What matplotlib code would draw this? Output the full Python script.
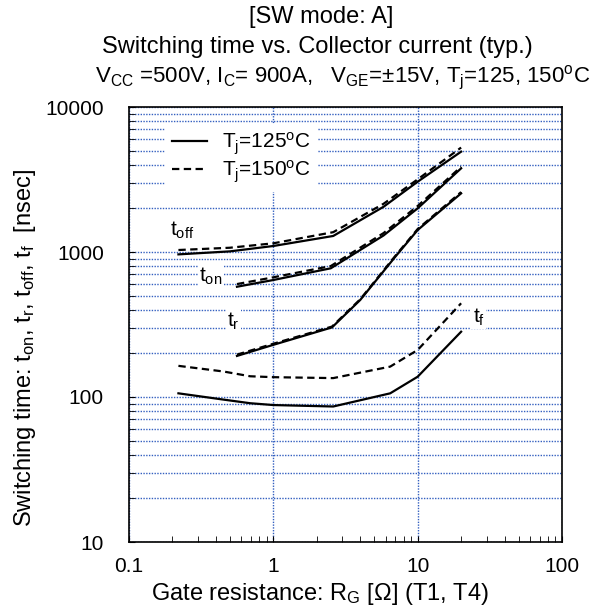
import numpy as np
import matplotlib
matplotlib.use("Agg")
import matplotlib.pyplot as plt

plt.rcParams['font.family'] = ['Liberation Sans', 'DejaVu Sans']
plt.rcParams['mathtext.fontset'] = 'custom'
plt.rcParams['mathtext.rm'] = 'Liberation Sans'
plt.rcParams['mathtext.it'] = 'Liberation Sans:italic'

# gate resistance [ohm] and switching times [nsec]
rg_off = [0.22, 0.5, 1.0, 2.6, 5.8, 10.0, 20.0]
toff_125 = [963, 1010, 1100, 1290, 2050, 3054, 4920]
toff_150 = [1032, 1070, 1148, 1370, 2150, 3170, 5250]

rg_on = [0.56, 1.0, 2.5, 5.8, 10.0, 20.0]
ton_125 = [576, 641, 772, 1300, 2000, 3775]
ton_150 = [601, 669, 800, 1350, 2076, 3873]

rg_r = [0.56, 1.0, 2.55, 4.0, 7.0, 10.0, 20.0]
tr_125 = [192, 229, 302, 467, 928, 1418, 2537]
tr_150 = [196, 233, 306, 472, 940, 1440, 2590]

rg_f = [0.22, 0.45, 0.69, 1.0, 2.6, 6.45, 10.0, 20.0]
tf_125 = [106, 96, 90.6, 88, 86, 106, 138, 282]
tf_150 = [164, 150, 139, 137, 135, 162, 211, 443]

x_ticks = [0.1, 1, 10, 100]
x_ticklabels = ['0.1', '1', '10', '100']
y_ticks = [10, 100, 1000, 10000]
y_ticklabels = ['10', '100', '1000', '10000']

fig = plt.figure(figsize=(5.97, 6.14), dpi=100)
ax = fig.add_axes([129 / 597, 72 / 614, 433 / 597, 435 / 614])
ax.set_xscale('log')
ax.set_yscale('log')
ax.set_xlim(0.1, 100)
ax.set_ylim(10, 10000)

grid_col = '#3460c0'
ax.grid(True, which='major', axis='x', color=grid_col, linestyle=(0, (1.0, 1.0)), linewidth=1.0)
ax.grid(True, which='both', axis='y', color=grid_col, linestyle=(0, (1.0, 1.0)), linewidth=1.0)
ax.set_axisbelow(True)

lw = 1.6
dash = (0, (3.3, 2.0))
ax.plot(rg_off, toff_125, color='k', lw=lw, label=r'T$_{\rm j}$=125$^{\rm o}$C')
ax.plot(rg_off, toff_150, color='k', lw=lw, linestyle=dash, label=r'T$_{\rm j}$=150$^{\rm o}$C')
ax.plot(rg_on, ton_125, color='k', lw=lw)
ax.plot(rg_on, ton_150, color='k', lw=lw, linestyle=dash)
ax.plot(rg_r, tr_125, color='k', lw=lw)
ax.plot(rg_r, tr_150, color='k', lw=lw, linestyle=dash)
ax.plot(rg_f, tf_125, color='k', lw=lw)
ax.plot(rg_f, tf_150, color='k', lw=lw, linestyle=dash)

box = dict(facecolor='white', edgecolor='none', pad=1)
ax.text(0.235, 1400, r't$_{\rm off}$', fontsize=15, ha='center', va='center', bbox=box)
ax.text(0.37, 680, r't$_{\rm on}$', fontsize=15, ha='center', va='center', bbox=box)
ax.text(0.53, 335, r't$_{\rm r}$', fontsize=15, ha='center', va='center', bbox=box)
ax.text(26.5, 355, r't$_{\rm f}$', fontsize=15, ha='center', va='center', bbox=box)

leg = ax.legend(loc='upper left', bbox_to_anchor=(0.06, 0.985), fontsize=15, frameon=True,
                handlelength=1.7, handletextpad=0.7, labelspacing=0.1, borderpad=0.3)
leg.get_frame().set_facecolor('white')
leg.get_frame().set_edgecolor('none')
leg.get_frame().set_alpha(1)

ax.set_xticks(x_ticks)
ax.set_xticklabels(x_ticklabels)
ax.set_yticks(y_ticks)
ax.set_yticklabels(y_ticklabels)
ax.tick_params(axis='both', which='major', direction='in', length=4, labelsize=15)
ax.tick_params(axis='x', which='major', pad=11)
ax.tick_params(axis='y', which='major', pad=18)
ax.tick_params(axis='both', which='minor', direction='in', length=4)
ax.yaxis.set_minor_formatter(matplotlib.ticker.NullFormatter())
ax.xaxis.set_minor_formatter(matplotlib.ticker.NullFormatter())
for s in ax.spines.values():
    s.set_linewidth(1.2)

fig.text(0.538, 1 - 17 / 614, '[SW mode: A]', fontsize=17, ha='center', va='center')
fig.text(0.531, 1 - 47 / 614, 'Switching time vs. Collector current (typ.)', fontsize=17,
         ha='center', va='center')
fig.text(0.573, 1 - 78 / 614,
         r'V$_{\rm CC}$ =500V, I$_{\rm C}$= 900A,   V$_{\rm GE}$=±15V, T$_{\rm j}$=125, 150$^{\rm o}$C',
         fontsize=16, ha='center', va='center')

fig.text(25 / 597, 1 - 348 / 614,
         r'Switching time: t$_{\rm on}$, t$_{\rm r}$, t$_{\rm off}$, t$_{\rm f}$  [nsec]',
         fontsize=17, rotation=90, ha='center', va='center')
fig.text(320 / 597, 1 - 594 / 614, r'Gate resistance: R$_{\rm G}$ [$\Omega$] (T1, T4)',
         fontsize=17, ha='center', va='center')

fig.savefig('out.png', dpi=100)
